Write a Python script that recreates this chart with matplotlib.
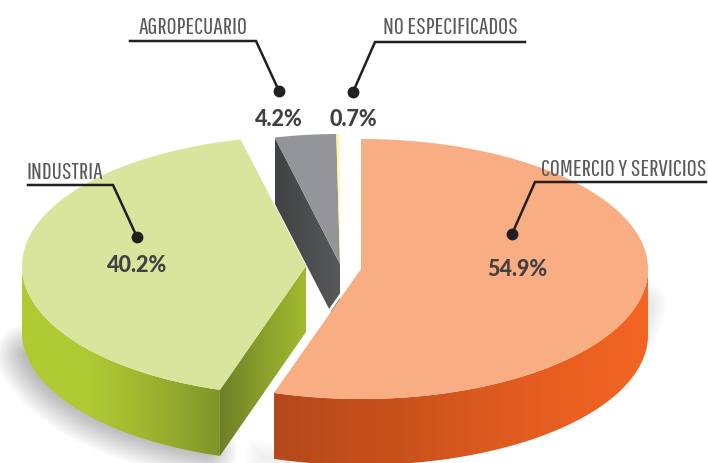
import numpy as np
import matplotlib
matplotlib.use("Agg")
import matplotlib.pyplot as plt
from matplotlib.patches import Polygon
from matplotlib.colors import LinearSegmentedColormap

# datos
categorias = ["COMERCIO Y SERVICIOS", "INDUSTRIA", "AGROPECUARIO", "NO ESPECIFICADOS"]
valores = [54.9, 40.2, 4.2, 0.7]
etiquetas = ["54.9%", "40.2%", "4.2%", "0.7%"]

# estilo de cada rebanada
centros = [(361, 270), (306, 267), (340, 265), (340, 265)]
radio_x = [287, 284, 284, 284]
radio_y = 130
alto = 66
ajuste_giro = [1.0, 1.03, 0.83, 0.24]  # el original no respeta del todo las proporciones
colores_top = ["#F8AD82", "#D9E59C", "#939598", "#FFF799"]

pos_pct = [(517, 270), (137, 266), (279, 119), (353, 119)]
pos_txt = [(623.5, 170), (65, 173), (193, 27), (450, 27)]
guias = [
    [(706, 183), (535, 183), (512, 235)],
    [(28, 186), (113, 186), (137, 238)],
    [(130, 42), (256, 42), (279, 92)],
    [(525, 43), (375, 43), (353, 93)],
]

fig = plt.figure(figsize=(7.08, 4.64), dpi=100)
ax = fig.add_axes([0, 0, 1, 1])


def arco(c, a, t0, t1, dy=0):
    t = np.radians(np.linspace(t0, t1, 200))
    return np.column_stack([c[0] + a * np.cos(t), c[1] - radio_y * np.sin(t) + dy])


def degradado(puntos, x0, x1, cols, z):
    cmap = LinearSegmentedColormap.from_list("g", cols)
    img = ax.imshow(np.linspace(0, 1, 256).reshape(1, -1), cmap=cmap, extent=[x0, x1, 464, 0],
                    aspect="auto", zorder=z, interpolation="bilinear")
    p = Polygon(puntos, closed=True, transform=ax.transData, fc="none", ec="none")
    ax.add_patch(p)
    img.set_clip_path(p)


# angulos a partir de los valores
t = 90.0
angulos = []
for v, k in zip(valores, ajuste_giro):
    barrido = v / 100 * 360 * k
    angulos.append((t, t - barrido))
    t = t - barrido

# sombras
c, a = centros[1], radio_x[1]
borde = arco(c, a, 192, 250, dy=alto - 4)
for lw in np.arange(44, 2, -3):
    ax.plot(borde[:, 0] - 2, borde[:, 1], color="black", lw=lw, alpha=0.018, zorder=1,
            solid_capstyle="round")
borde = arco(centros[0], radio_x[0], 250, 262, dy=alto)
for lw in np.arange(24, 2, -3):
    ax.plot(borde[:, 0] - 1, borde[:, 1], color="black", lw=lw, alpha=0.008, zorder=1)
borde = arco(centros[0], radio_x[0], -16, 0, dy=alto - 34)
for lw in np.arange(26, 2, -3):
    ax.plot(borde[:, 0], borde[:, 1], color="black", lw=lw, alpha=0.010, zorder=1,
            solid_capstyle="round")

# gris: cara de corte y tapa
c, a = centros[2], radio_x[2]
t0, t1 = angulos[2]
p0 = arco(c, a, t0, t0)[0]
degradado([p0, c, (c[0], c[1] + alto), (p0[0], p0[1] + alto)], p0[0], c[0],
          ["#414244", "#58595B"], 2)
top = np.vstack([arco(c, a, t0, t1), [c]])
ax.add_patch(Polygon(top, closed=True, fc=colores_top[2], ec="none", zorder=3))
t0, t1 = angulos[3]
top = np.vstack([arco(c, a, t0, t1), [c]])
ax.add_patch(Polygon(top, closed=True, fc=colores_top[3], ec="none", zorder=3))

# verde
c, a = centros[1], radio_x[1]
t0, t1 = angulos[1]
p0 = arco(c, a, t0, t0)[0]
arc_side = arco(c, a, 180, t0 + 360)
lado = np.vstack([arc_side, arc_side[::-1] + [0, alto]])
degradado(lado, c[0] - a, p0[0], ["#B0CA33", "#B0CA33", "#9DB22E", "#7F952A"], 4)
degradado([p0, c, (c[0], c[1] + alto), (p0[0], p0[1] + alto)], p0[0], c[0],
          ["#6E8027", "#8AA02B", "#A3BA2F"], 4)
top = np.vstack([arco(c, a, t0, t1), [c]])
ax.add_patch(Polygon(top, closed=True, fc=colores_top[1], ec="none", zorder=5))

# naranja
c, a = centros[0], radio_x[0]
t0, t1 = angulos[0]
p1 = arco(c, a, t1, t1)[0]
arc_side = arco(c, a, 0, t1)
lado = np.vstack([arc_side, arc_side[::-1] + [0, alto]])
degradado(lado, p1[0], c[0] + a, ["#B5481B", "#C9521C", "#E35D20", "#F36523"], 6)
top = np.vstack([arco(c, a, t0, t1), [c]])
ax.add_patch(Polygon(top, closed=True, fc=colores_top[0], ec="none", zorder=7))
ax.plot([c[0] - 1.5, p1[0] - 1.5], [c[1] - 1, p1[1] - 1], color="white", lw=2.0, zorder=6.5)

# guias y textos
for g, pt, txt, pp, pc in zip(guias, pos_txt, categorias, pos_pct, etiquetas):
    xs = [q[0] for q in g]
    ys = [q[1] for q in g]
    ax.plot(xs, ys, color="#231F20", lw=1.8, zorder=9, solid_joinstyle="miter")
    ax.plot(xs[-1], ys[-1], "o", color="#231F20", ms=7.5, zorder=9)
    ax.text(pt[0], pt[1], txt, ha="center", va="center", color="#58595B", fontsize=17.5,
            family=["Pathway Gothic One", "Oswald", "DejaVu Sans"], zorder=10)
    ax.text(pp[0], pp[1], pc, ha="center", va="center", color="#414042", fontsize=15.5,
            family=["Lato", "DejaVu Sans"], fontweight="black", zorder=10)

ax.set_xlim(0, 708)
ax.set_ylim(464, 0)
ax.axis("off")
fig.savefig("out.png", dpi=100)
